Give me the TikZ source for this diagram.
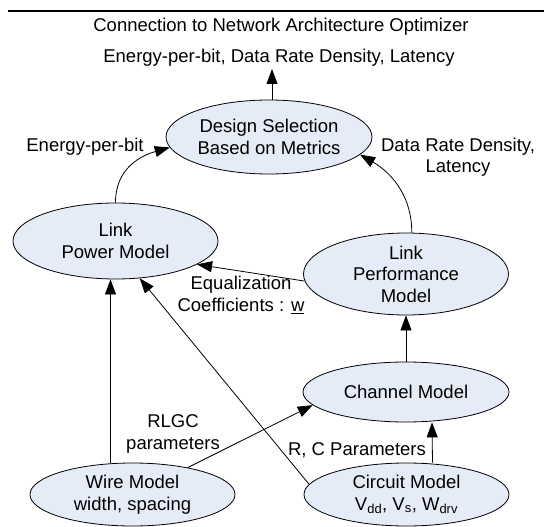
\documentclass[tikz,border=0pt]{standalone}
\usepackage{fontspec}
\setmainfont{Liberation Sans}
\usetikzlibrary{arrows.meta,shapes.geometric,calc}
\definecolor{efill}{RGB}{230,236,247}
\begin{document}
\begin{tikzpicture}[x=1pt,y=-1pt,
  every node/.style={font=\fontsize{18.5}{21.5}\selectfont, align=center, inner sep=0pt},
  model/.style={ellipse, draw=black, line width=0.8pt, fill=efill, inner sep=0pt, align=center},
  conn/.style={line width=0.8pt, -{Triangle[length=15pt,width=11pt]}},
  rule/.style={line width=2pt}
]
\useasboundingbox (0,0) rectangle (544,527);
\draw[rule] (8,11) -- (544,11);

\node (t1) at (281,27) {Connection to Network Architecture Optimizer};
\node (t2) at (279,58) {Energy-per-bit, Data Rate Density, Latency};
\coordinate (top) at (272,69);

\node[model, minimum width=206pt, minimum height=74pt] (ds) at (269,137) {Design Selection\\Based on Metrics};
\node[model, minimum width=205pt, minimum height=76pt] (pw) at (115.5,241) {Link\\Power Model};
\node[model, minimum width=205pt, minimum height=82pt] (pf) at (406,274) {Link\\Performance\\Model};
\node[model, minimum width=206pt, minimum height=60pt] (ch) at (406,392) {Channel Model};
\node[model, minimum width=205pt, minimum height=63pt] (wm) at (132.5,494.5) {Wire Model\\width, spacing};
\node[model, minimum width=205pt, minimum height=63pt] (cm) at (406.5,494.5) {Circuit Model\\V\textsubscript{dd}, V\textsubscript{s}, W\textsubscript{drv}};

\node (le) at (85,147) {Energy-per-bit};
\node (lr) at (458,157) {Data Rate Density,\\Latency};
\node (leq) at (241,295) {Equalization\\Coefficients : \underline{w}};
\node (lrl) at (173,434) {RLGC\\parameters};
\node (lrc) at (357,450) {R, C Parameters};

\coordinate (pwb) at ([xshift=-5pt]pw.south);
\coordinate (cmt) at ([xshift=26pt]cm.north);
\coordinate (chb) at ([xshift=26pt]ch.south);

\draw[conn] (ds.north -| top) -- (top);
\draw[conn] (pw.north) .. controls +(0,-35) and +(-28,8) .. (ds.186);
\draw[conn] (pf.82) .. controls +(0,-40) and +(28,16) .. (ds.-11);
\draw[conn] (pf.184) -- (pw.-16);
\draw[conn] (ch.north) -- (pf.south);
\draw[conn] (cmt) -- (chb);
\draw[conn] (cm.174) -- (pw.-57);
\draw[conn] (pwb |- wm.north) -- (pwb);
\draw[conn] (wm.26) -- (ch.188);
\end{tikzpicture}
\end{document}
